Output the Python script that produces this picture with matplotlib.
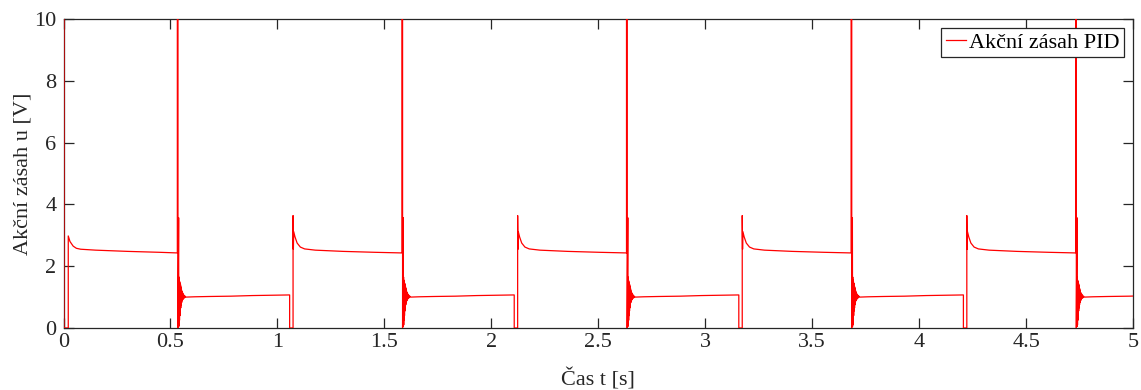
import numpy as np
import matplotlib.pyplot as plt

# --- data ---
# start of the record (t = 0 ... first set-point change)
start_t = [0.0, 0.002, 0.002, 0.022, 0.022, 0.03, 0.045, 0.06, 0.08, 0.15, 0.30, 0.45, 0.532]
start_u = [10.0, 10.0, 0.0, 0.0, 2.98, 2.80, 2.65, 2.58, 2.55, 2.52, 2.48, 2.45, 2.43]

# times where u saturates at 10 and then settles on the low level
rise_times = [0.532, 1.582, 2.632, 3.682, 4.732]
rise_dt = [0.0, 0.0, 0.003, 0.003,
           0.0060, 0.0068, 0.0076, 0.0084, 0.0092, 0.0100, 0.0110, 0.0120, 0.0130,
           0.0140, 0.0150, 0.0160, 0.0170, 0.0180, 0.0190, 0.0200, 0.0215, 0.0230,
           0.0245, 0.0260, 0.0280, 0.0300, 0.0320, 0.0340, 0.0370, 0.0400,
           0.08, 0.15, 0.25, 0.35, 0.45, 0.525]
rise_u = [2.43, 10.0, 10.0, 0.0,
          3.57, 0.05, 1.65, 0.10, 1.55, 0.25, 1.50, 0.40, 1.45,
          0.55, 1.40, 0.65, 1.33, 0.75, 1.27, 0.82, 1.20, 0.88,
          1.14, 0.92, 1.10, 0.96, 1.06, 0.98, 1.03, 1.00,
          1.01, 1.02, 1.03, 1.05, 1.06, 1.07]

# times where u drops to 0 and then settles on the high level
drop_times = [1.057, 2.107, 3.157, 4.207]
drop_dt = [0.0, 0.0, 0.016, 0.016, 0.0175, 0.019, 0.025, 0.035, 0.05, 0.07, 0.12, 0.25, 0.40, 0.525]
drop_u = [1.07, 0.0, 0.0, 3.64, 2.55, 3.12, 2.95, 2.75, 2.62, 2.56, 2.52, 2.48, 2.45, 2.43]

# --- skládání signálu ---
events = sorted([(r, 'rise') for r in rise_times] + [(d, 'drop') for d in drop_times])
t = list(start_t)
u = list(start_u)
for t0, kind in events:
    dts, us = (rise_dt, rise_u) if kind == 'rise' else (drop_dt, drop_u)
    t += [t0 + d for d in dts]
    u += us
t = np.array(t)
u = np.array(u)

# --- graf ---
plt.rcParams['font.family'] = ['Liberation Serif', 'DejaVu Serif']
plt.rcParams['font.size'] = 16

fig = plt.figure(figsize=(11.41, 3.90), dpi=100)
ax = fig.add_axes([0.0557, 0.159, 0.9373, 0.792])

ax.plot(t, u, color='#ff0000', lw=0.9, label='Akční zásah PID', zorder=3)

ax.set_xlim(0, 5)
ax.set_ylim(0, 10)
ax.set_xticks(np.arange(0, 5.01, 0.5))
ax.set_xticklabels(['0', '0.5', '1', '1.5', '2', '2.5', '3', '3.5', '4', '4.5', '5'])
ax.set_yticks([0, 2, 4, 6, 8, 10])
ax.tick_params(direction='in', length=7.5, width=0.9, top=True, right=True,
               colors='#262626', labelcolor='#262626')
ax.tick_params(axis='x', pad=3.5)
ax.tick_params(axis='y', pad=5)
for s in ax.spines.values():
    s.set_color('#262626')
    s.set_linewidth(0.9)

ax.set_xlabel('Čas t [s]', color='#262626', labelpad=12)
ax.set_ylabel('Akční zásah u [V]', color='#262626', labelpad=1)

leg = ax.legend(loc='upper right', fancybox=False, framealpha=1, edgecolor='#262626',
                borderpad=0.2, handlelength=0.9, handletextpad=0.15, borderaxespad=0.4,
                fontsize=16)
leg.get_frame().set_linewidth(0.9)
leg.set_zorder(5)

fig.savefig('out.png', dpi=100)
